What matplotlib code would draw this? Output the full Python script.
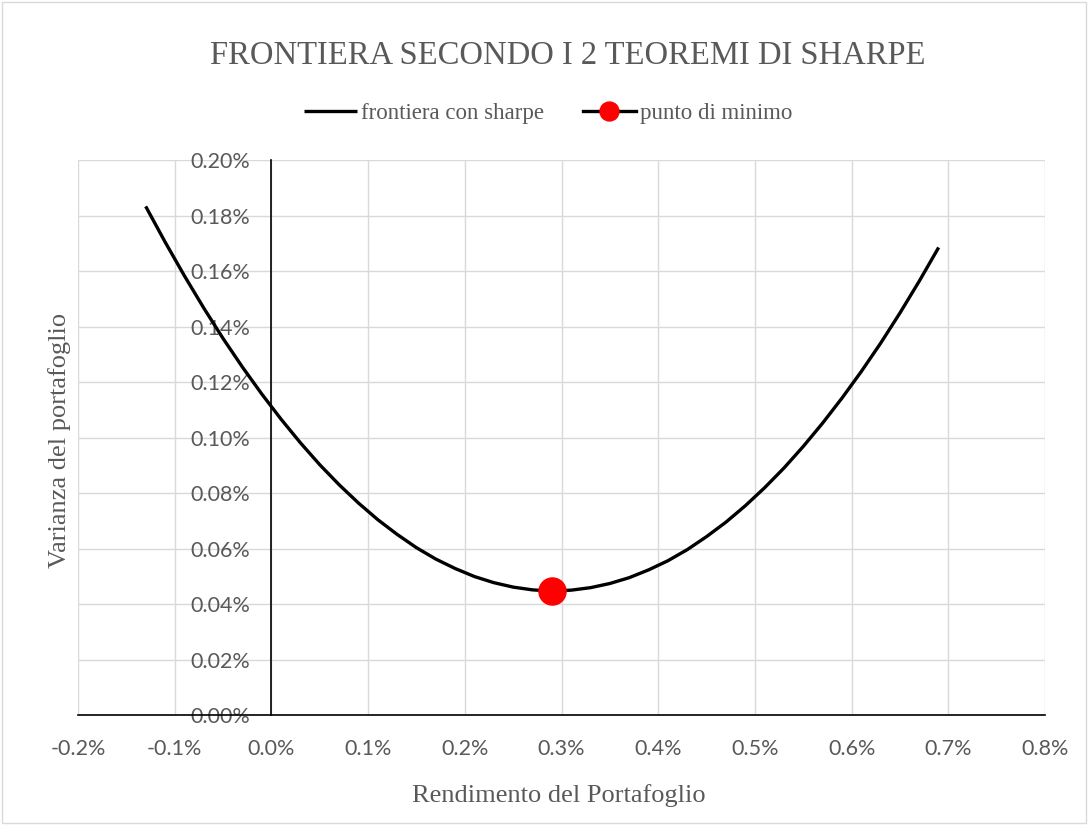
import matplotlib
matplotlib.use("Agg")
import matplotlib.pyplot as plt
from matplotlib.ticker import FuncFormatter, MultipleLocator
from matplotlib.patches import Rectangle

# Data (in percent units)
rendimento = [-0.13, -0.11, -0.09, -0.07, -0.05, -0.03, -0.01, 0.01, 0.03, 0.05,
              0.07, 0.09, 0.11, 0.13, 0.15, 0.17, 0.19, 0.21, 0.23, 0.25,
              0.27, 0.29, 0.31, 0.33, 0.35, 0.37, 0.39, 0.41, 0.43, 0.45,
              0.47, 0.49, 0.51, 0.53, 0.55, 0.57, 0.59, 0.61, 0.63, 0.65,
              0.67, 0.69]
varianza = [0.1833, 0.1705, 0.1583, 0.1467, 0.1357, 0.1254, 0.1157, 0.1066, 0.0981, 0.0902,
            0.0830, 0.0764, 0.0704, 0.0651, 0.0603, 0.0562, 0.0528, 0.0499, 0.0477, 0.0461,
            0.0451, 0.0447, 0.0450, 0.0459, 0.0474, 0.0495, 0.0523, 0.0556, 0.0596, 0.0643,
            0.0695, 0.0754, 0.0819, 0.0890, 0.0968, 0.1052, 0.1142, 0.1238, 0.1340, 0.1449,
            0.1564, 0.1685]
min_rendimento = [0.29]
min_varianza = [0.0447]

title = "FRONTIERA SECONDO I 2 TEOREMI DI SHARPE"
series_names = ["frontiera con sharpe", "punto di minimo"]
xlabel = "Rendimento del Portafoglio"
ylabel = "Varianza del portafoglio"

serif = "Liberation Serif"
tickfont = "Lato"
gray = "#595959"

fig = plt.figure(figsize=(10.88, 8.25), dpi=100)
fig.patches.append(Rectangle((0.0015, 0.002), 0.997, 0.996, transform=fig.transFigure,
                             fill=False, edgecolor="#d9d9d9", linewidth=1))
ax = fig.add_axes([0.0717, 0.1333, 0.8888, 0.6727])

ax.plot(rendimento, varianza, color="black", linewidth=2.4, label=series_names[0],
        solid_capstyle="butt", zorder=3)
ax.plot(min_rendimento, min_varianza, color="black", linewidth=2.4, marker="o",
        markersize=19.5, markerfacecolor="red", markeredgecolor="red",
        label=series_names[1], zorder=4)

ax.set_xlim(-0.2, 0.8)
ax.set_ylim(0.0, 0.2)
ax.xaxis.set_major_locator(MultipleLocator(0.1))
ax.yaxis.set_major_locator(MultipleLocator(0.02))
ax.xaxis.set_major_formatter(FuncFormatter(lambda v, p: f"{v:.1f}%".replace("-0.0%", "0.0%")))
ax.yaxis.set_major_formatter(FuncFormatter(lambda v, p: f"{v:.2f}%"))

ax.grid(True, color="#d9d9d9", linewidth=1)
ax.set_axisbelow(True)
for s in ["top", "right"]:
    ax.spines[s].set_visible(False)
ax.spines["left"].set_position(("data", 0))
ax.spines["bottom"].set_position(("data", 0))
ax.spines["left"].set_color("black")
ax.spines["bottom"].set_color("black")
ax.spines["left"].set_linewidth(1.2)
ax.spines["bottom"].set_linewidth(1.2)

ax.tick_params(axis="both", length=0, labelsize=15.5, labelcolor=gray)
ax.tick_params(axis="y", pad=15)
ax.tick_params(axis="x", pad=17)
for lab in ax.get_xticklabels() + ax.get_yticklabels():
    lab.set_fontfamily(tickfont)

fig.text(0.522, 0.932, title, ha="center", va="center", fontsize=23.5,
         family=serif, color=gray)
fig.text(0.514, 0.036, xlabel, ha="center", va="center", fontsize=19,
         family=serif, color=gray)
fig.text(0.055, 0.466, ylabel, ha="center", va="center", fontsize=19,
         family=serif, color=gray, rotation=90)

leg = fig.legend(loc="center", bbox_to_anchor=(0.504, 0.862), ncol=2, frameon=False,
                 prop={"family": serif, "size": 16.5}, handlelength=2.3,
                 handletextpad=0.2, columnspacing=1.7, markerscale=0.7)
for t in leg.get_texts():
    t.set_color(gray)

fig.savefig("out.png", dpi=100)
